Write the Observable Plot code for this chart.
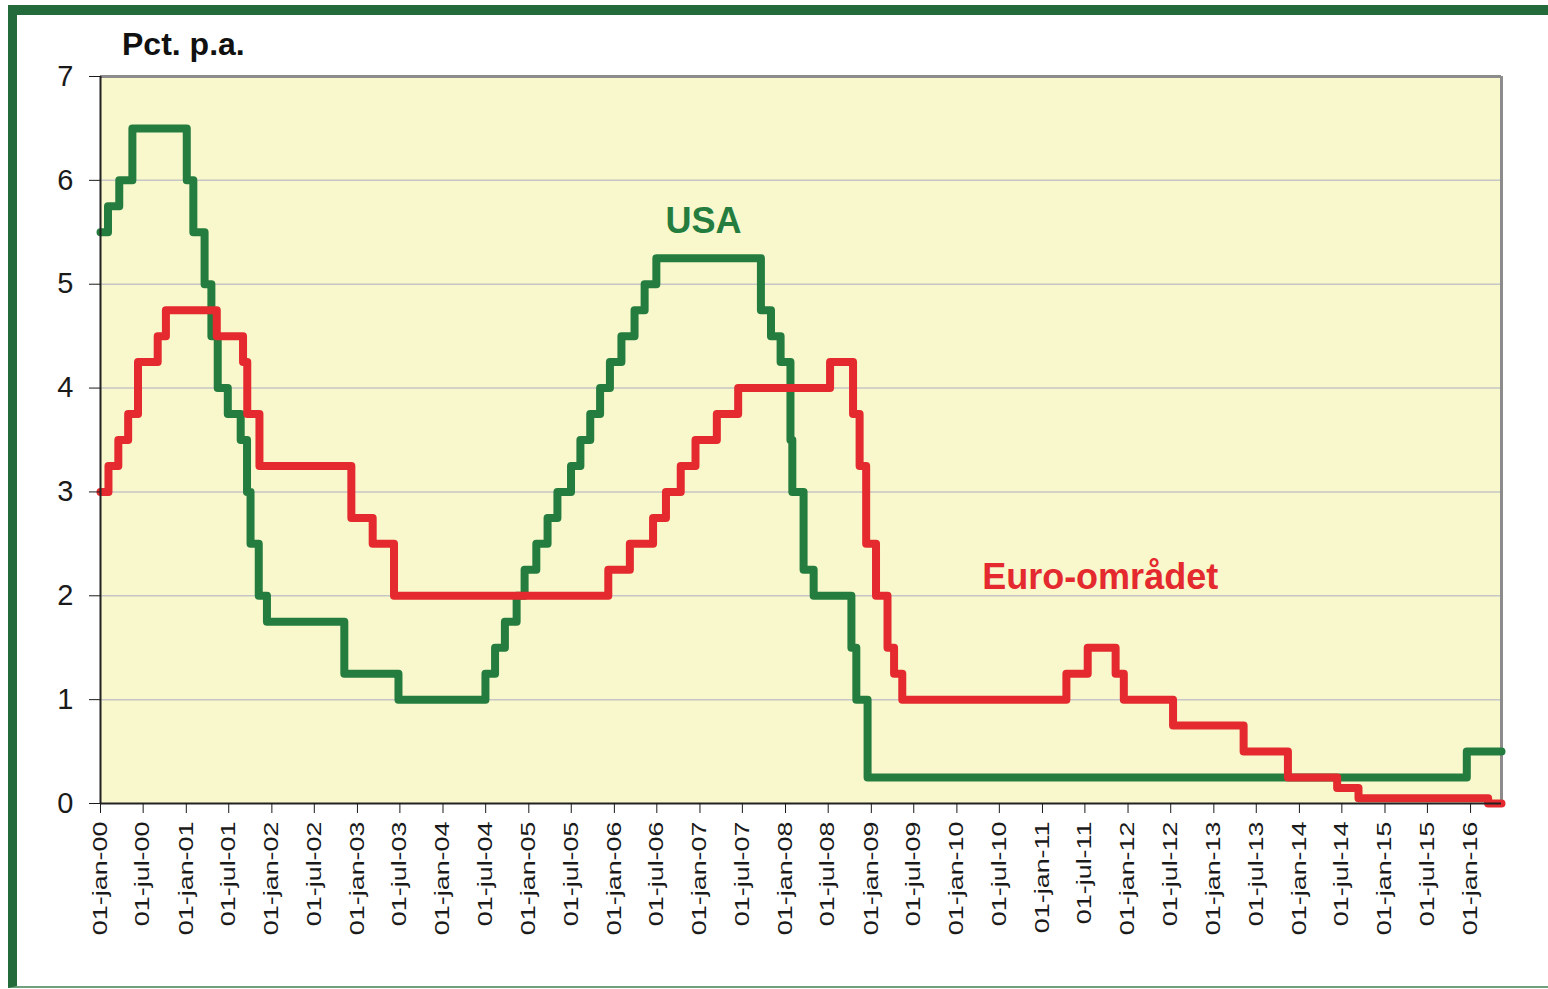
<!DOCTYPE html>
<html>
<head>
<meta charset="utf-8">
<script src="https://cdn.jsdelivr.net/npm/d3@7"></script>
<script src="https://cdn.jsdelivr.net/npm/@observablehq/plot@0.6"></script>
<style>
  html, body { margin: 0; padding: 0; background: #fff; overflow: hidden; }
  #wrap { position: relative; width: 1548px; height: 989px; }
  #frame { position: absolute; left: 8px; top: 5px; right: -30px; bottom: 1px;
           border-left: 9px solid #236b3a; border-top: 10px solid #236b3a;
           border-bottom: 2px solid #6f9f7c; pointer-events: none; }
  #chart { position: absolute; left: 0; top: 0; }
</style>
</head>
<body>
<div id="wrap"><div id="chart"></div><div id="frame"></div></div>
<script>
// USA: federal funds target rate (pct. p.a.), change dates
const usaDates = ["2000-01-01","2000-02-02","2000-03-21","2000-05-16","2001-01-03","2001-01-31","2001-03-20","2001-04-18","2001-05-15","2001-06-27","2001-08-21","2001-09-17","2001-10-02","2001-11-06","2001-12-11","2002-11-06","2003-06-25","2004-06-30","2004-08-10","2004-09-21","2004-11-10","2004-12-14","2005-02-02","2005-03-22","2005-05-03","2005-06-30","2005-08-09","2005-09-20","2005-11-01","2005-12-13","2006-01-31","2006-03-28","2006-05-10","2006-06-29","2007-09-18","2007-10-31","2007-12-11","2008-01-22","2008-01-30","2008-03-18","2008-04-30","2008-10-08","2008-10-29","2008-12-16","2015-12-16","2016-05-12"];
const usaRates = [5.50,5.75,6.00,6.50,6.00,5.50,5.00,4.50,4.00,3.75,3.50,3.00,2.50,2.00,1.75,1.25,1.00,1.25,1.50,1.75,2.00,2.25,2.50,2.75,3.00,3.25,3.50,3.75,4.00,4.25,4.50,4.75,5.00,5.25,4.75,4.50,4.25,3.50,3.00,2.25,2.00,1.50,1.00,0.25,0.50,0.50];

// Euro area: ECB main refinancing rate (pct. p.a.), change dates
const euroDates = ["2000-01-01","2000-02-04","2000-03-17","2000-04-28","2000-06-09","2000-09-01","2000-10-06","2001-05-11","2001-08-31","2001-09-18","2001-11-09","2002-12-06","2003-03-07","2003-06-06","2005-12-06","2006-03-08","2006-06-15","2006-08-09","2006-10-11","2006-12-13","2007-03-14","2007-06-13","2008-07-09","2008-10-15","2008-11-12","2008-12-10","2009-01-21","2009-03-11","2009-04-08","2009-05-13","2011-04-13","2011-07-13","2011-11-09","2011-12-14","2012-07-11","2013-05-08","2013-11-13","2014-06-11","2014-09-10","2016-03-16","2016-05-12"];
const euroRates = [3.00,3.25,3.50,3.75,4.25,4.50,4.75,4.50,4.25,3.75,3.25,2.75,2.50,2.00,2.25,2.50,2.75,3.00,3.25,3.50,3.75,4.00,4.25,3.75,3.25,2.50,2.00,1.50,1.25,1.00,1.25,1.50,1.25,1.00,0.75,0.50,0.25,0.15,0.05,0.00,0.00];

const yTicks = [0,1,2,3,4,5,6,7];
const monthLabels = {0: "jan", 6: "jul"};
const xStart = "2000-01-01", xEnd = "2016-05-12";
const xTickFirst = "2000-01-01", xTickLast = "2016-01-01";

const seriesLabels = [
  {name: "USA", date: "2007-01-16", value: 5.60, color: "#247d3f"},
  {name: "Euro-området", date: "2011-09-04", value: 2.18, color: "#e42a2e"}
];
const yUnit = "Pct. p.a.";

const usa = usaDates.map((d, i) => ({date: new Date(d), value: usaRates[i]}));
const euro = euroDates.map((d, i) => ({date: new Date(d), value: euroRates[i]}));
const labels = seriesLabels.map(d => ({...d, date: new Date(d.date)}));
const xTicks = d3.utcMonth.every(6).range(new Date(xTickFirst), d3.utcDay.offset(new Date(xTickLast), 1));
const fmt = d => "01-" + monthLabels[d.getUTCMonth()] + "-" + String(d.getUTCFullYear() % 100).padStart(2, "0");

const font = "'Liberation Sans', Arial, Helvetica, sans-serif";

const chart = Plot.plot({
  width: 1548,
  height: 989,
  marginLeft: 100,
  marginRight: 47,
  marginTop: 76,
  marginBottom: 186,
  style: {fontFamily: font, fontSize: "19.5px", color: "#1a1a1a", background: "transparent", overflow: "visible"},
  x: {type: "utc", domain: [new Date(xStart), new Date(xEnd)]},
  y: {domain: [0, 7]},
  marks: [
    Plot.frame({fill: "#f8f8cc", stroke: "none"}),
    Plot.gridY([1,2,3,4,5,6], {stroke: "#c6c6c6", strokeOpacity: 1, strokeWidth: 1.5}),
    Plot.ruleY([7], {stroke: "#8c8c8c", strokeWidth: 3}),
    Plot.ruleX([new Date(xEnd)], {stroke: "#8c8c8c", strokeWidth: 3}),
    Plot.line(usa, {x: "date", y: "value", curve: "step-after", stroke: "#247d3f", strokeWidth: 8, strokeLinejoin: "round"}),
    Plot.line(euro, {x: "date", y: "value", curve: "step-after", stroke: "#e42a2e", strokeWidth: 8, strokeLinejoin: "round"}),
    Plot.ruleX([new Date(xStart)], {stroke: "#222", strokeWidth: 2}),
    Plot.ruleY([0], {stroke: "#222", strokeWidth: 2}),
    Plot.axisY({ticks: yTicks, tickSize: 11, tickPadding: 16, fontSize: 29, tickFormat: d => String(d), label: null}),
    Plot.axisX({ticks: xTicks, tickFormat: fmt, tickRotate: -90, tickSize: 10, tickPadding: 8, fontSize: 19.5, label: null}),
    Plot.text(labels, {x: "date", y: "value", text: "name", fill: "color", fontSize: 36, fontWeight: "bold", textAnchor: "middle", lineAnchor: "middle"})
  ]
});

document.getElementById("chart").appendChild(chart);

const svg = d3.select(chart);
// Stretch rotated x tick labels along their length, as in the reference
svg.selectAll('[aria-label="x-axis tick label"] text').each(function() {
  const t = this.getAttribute("transform");
  if (t) this.setAttribute("transform", t + " scale(1.38,1)");
});
// unit label above the y axis
svg.append("text")
  .attr("x", 122).attr("y", 55)
  .attr("text-anchor", "start")
  .attr("font-family", font).attr("font-size", 32).attr("font-weight", "bold")
  .attr("fill", "#111")
  .text(yUnit);
</script>
</body>
</html>
